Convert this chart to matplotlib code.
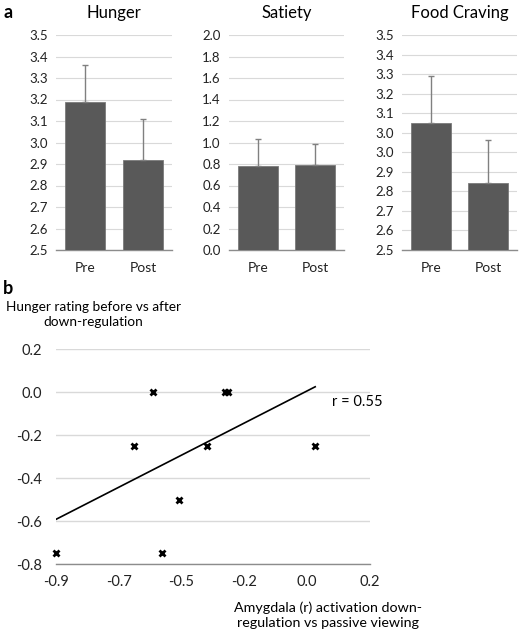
import numpy as np
import matplotlib
matplotlib.use("Agg")
import matplotlib.pyplot as plt

plt.rcParams['font.family'] = ['Lato', 'DejaVu Sans']

# ---- data: panel a ----
categories = ["Pre", "Post"]
hunger_mean = [3.19, 2.92]
hunger_err = [0.17, 0.19]
satiety_mean = [0.78, 0.79]
satiety_err = [0.25, 0.20]
craving_mean = [3.09, 2.81]
craving_err = [0.22, 0.20]

hunger_ticks = [2.5, 2.6, 2.7, 2.8, 2.9, 3.0, 3.1, 3.2, 3.3, 3.4, 3.5]
hunger_labels = ["2.5", "2.6", "2.7", "2.8", "2.9", "3.0", "3.1", "3.2", "3.3", "3.4", "3.5"]
satiety_ticks = [0.0, 0.2, 0.4, 0.6, 0.8, 1.0, 1.2, 1.4, 1.6, 1.8, 2.0]
satiety_labels = ["0.0", "0.2", "0.4", "0.6", "0.8", "1.0", "1.2", "1.4", "1.6", "1.8", "2.0"]
craving_labels = ["2.5", "2.6", "2.7", "2.8", "2.9", "3.0", "3.0", "3.1", "3.2", "3.3", "3.4", "3.5"]

# ---- data: panel b ----
amyg_x = [-0.559, -0.307, -0.298, -0.627, -0.372, 0.008, -0.469, -0.900, -0.530]
hunger_diff = [0.0, 0.0, 0.0, -0.25, -0.25, -0.25, -0.50, -0.75, -0.75]
trend_slope = 0.68
trend_intercept = 0.02
r_value = 0.55
scatter_xlabels = ["-0.9", "-0.7", "-0.5", "-0.2", "0.0", "0.2"]
scatter_yticks = [-0.8, -0.6, -0.4, -0.2, 0.0, 0.2]
scatter_ylabels = ["-0.8", "-0.6", "-0.4", "-0.2", "0.0", "0.2"]

W, H = 520, 633
fig = plt.figure(figsize=(W / 100, H / 100), dpi=100)

def px_axes(x0, x1, ytop, ybot):
    return fig.add_axes([x0 / W, 1 - ybot / H, (x1 - x0) / W, (ybot - ytop) / H])

bar_color = "#595959"
grid_color = "#d9d9d9"
axis_color = "#8c8c8c"
tick_fs = 9.5

def bar_panel(ax, means, errs, ylim, ticks, labels, title):
    xs = np.arange(len(categories))
    ax.bar(xs, means, width=0.7, color=bar_color, edgecolor="#7a7a7a", linewidth=0.6, zorder=3)
    ax.errorbar(xs, means, yerr=[np.zeros(len(errs)), errs], fmt="none",
                ecolor="#808080", elinewidth=1.0, capsize=2.5, capthick=1.0, zorder=4)
    ax.set_ylim(*ylim)
    ax.set_xlim(-0.5, len(categories) - 0.5)
    ax.set_yticks(ticks)
    ax.set_yticklabels(labels)
    ax.set_xticks(xs)
    ax.set_xticklabels(categories)
    ax.yaxis.grid(True, color=grid_color, linewidth=0.8, zorder=0)
    ax.set_axisbelow(True)
    for s in ["left", "right", "top"]:
        ax.spines[s].set_visible(False)
    ax.spines["bottom"].set_color(axis_color)
    ax.spines["bottom"].set_linewidth(1.0)
    ax.tick_params(axis="both", length=0, labelsize=tick_fs, colors="#222222")
    ax.tick_params(axis="y", pad=6)
    ax.tick_params(axis="x", pad=9, labelsize=10)
    ax.set_title(title, fontsize=12, pad=12)

ax1 = px_axes(56, 172, 35, 250)
bar_panel(ax1, hunger_mean, hunger_err, (2.5, 3.5), hunger_ticks, hunger_labels, "Hunger")
ax2 = px_axes(229, 344, 35, 250)
bar_panel(ax2, satiety_mean, satiety_err, (0.0, 2.0), satiety_ticks, satiety_labels, "Satiety")
ax3 = px_axes(402, 517, 35, 250)
bar_panel(ax3, craving_mean, craving_err, (2.5, 3.5),
          np.linspace(2.5, 3.5, len(craving_labels)), craving_labels, "Food Craving")

fig.text(3 / W, 1 - 12 / H, "a", fontsize=13, fontweight="bold", va="center", ha="left")
fig.text(3 / W, 1 - 288 / H, "b", fontsize=13, fontweight="bold", va="center", ha="left")

# ---- panel b ----
axb = px_axes(56, 370, 349.3, 564)
xmin, xmax = -0.9, 0.2
axb.set_xlim(xmin, xmax)
axb.set_ylim(-0.8, 0.2)
axb.set_xticks(np.linspace(xmin, xmax, len(scatter_xlabels)))
axb.set_xticklabels(scatter_xlabels)
axb.set_yticks(scatter_yticks)
axb.set_yticklabels(scatter_ylabels)
axb.yaxis.grid(True, color=grid_color, linewidth=1.0, zorder=0)
axb.set_axisbelow(True)
for s in ["left", "right", "top"]:
    axb.spines[s].set_visible(False)
axb.spines["bottom"].set_color("#8c8c8c")
axb.spines["bottom"].set_linewidth(1.0)
axb.tick_params(axis="both", length=0, labelsize=10.5, colors="#222222")
axb.tick_params(axis="y", pad=10)
axb.tick_params(axis="x", pad=8)

axb.plot(amyg_x, hunger_diff, linestyle="none", marker="x", markersize=5,
         markeredgewidth=2.0, color="black", zorder=4, clip_on=False)
tx = np.array([min(amyg_x), max(amyg_x)])
axb.plot(tx, trend_slope * tx + trend_intercept, color="black", linewidth=1.2, zorder=3)
axb.text(0.067, -0.045, f"r = {r_value:.2f}", fontsize=10.5, ha="left", va="center")

fig.text(93 / W, 1 - 315 / H, "Hunger rating before vs after\ndown-regulation",
         fontsize=9.8, ha="center", va="center", linespacing=1.3)
fig.text(328 / W, 1 - 615 / H, "Amygdala (r) activation down-\nregulation vs passive viewing",
         fontsize=10.3, ha="center", va="center", linespacing=1.3)

fig.savefig("out.png", dpi=100)
